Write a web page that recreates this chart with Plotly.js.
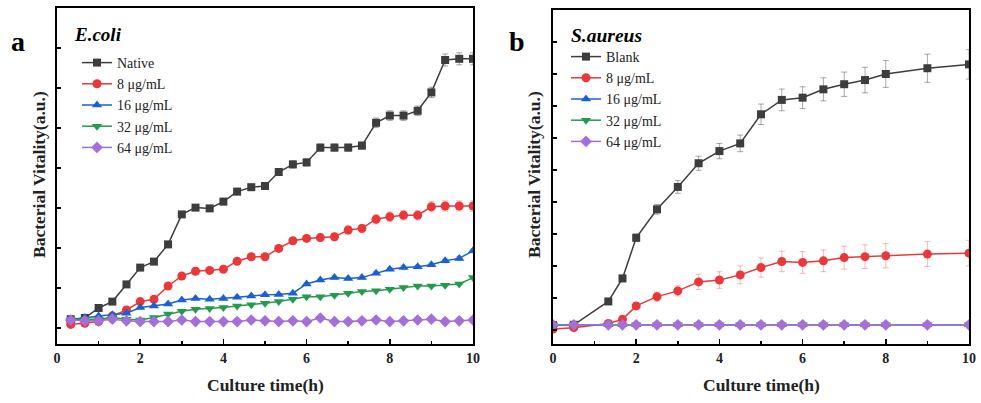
<!DOCTYPE html>
<html>
<head>
<meta charset="utf-8">
<script src="https://cdn.plot.ly/plotly-3.0.1.min.js"></script>
<style>html,body{margin:0;padding:0;background:#fff}#chart{width:981px;height:403px}</style>
</head>
<body>
<div id="chart"></div>
<script>
// ---------- Panel a : E.coli ----------
const timeA = [0.33,0.67,1.0,1.33,1.67,2.0,2.33,2.67,3.0,3.33,3.67,4.0,4.33,4.67,5.0,5.33,5.67,6.0,6.33,6.67,7.0,7.33,7.67,8.0,8.33,8.67,9.0,9.33,9.67,10.0];
const nativeA = [0.22,0.25,0.50,0.66,1.09,1.51,1.66,2.09,2.84,3.01,2.99,3.16,3.41,3.52,3.55,3.90,4.09,4.14,4.51,4.51,4.51,4.56,5.13,5.31,5.31,5.43,5.89,6.70,6.73,6.73];
const nativeAErr = [0.04,0.04,0.05,0.05,0.06,0.06,0.06,0.07,0.07,0.07,0.07,0.08,0.08,0.08,0.08,0.08,0.09,0.09,0.09,0.09,0.09,0.09,0.12,0.12,0.12,0.12,0.13,0.15,0.15,0.15];
const c8A = [0.09,0.12,0.16,0.30,0.45,0.66,0.72,1.05,1.30,1.42,1.44,1.47,1.67,1.78,1.78,1.99,2.18,2.24,2.26,2.28,2.45,2.49,2.72,2.78,2.82,2.82,3.03,3.05,3.05,3.05];
const c8AErr = [0.03,0.03,0.03,0.04,0.04,0.05,0.05,0.05,0.06,0.06,0.06,0.06,0.07,0.07,0.07,0.08,0.08,0.08,0.09,0.09,0.10,0.10,0.12,0.12,0.12,0.12,0.13,0.13,0.13,0.13];
const c16A = [0.20,0.26,0.30,0.33,0.37,0.51,0.55,0.60,0.70,0.74,0.72,0.74,0.77,0.80,0.83,0.84,0.87,1.10,1.20,1.26,1.24,1.26,1.37,1.47,1.51,1.53,1.58,1.68,1.74,1.93];
const c16AErr = [0.02,0.02,0.02,0.02,0.02,0.03,0.03,0.03,0.03,0.03,0.03,0.03,0.03,0.03,0.03,0.03,0.03,0.04,0.04,0.04,0.04,0.04,0.04,0.04,0.04,0.04,0.04,0.05,0.05,0.05];
const c32A = [0.20,0.22,0.22,0.26,0.22,0.20,0.26,0.35,0.42,0.47,0.49,0.51,0.55,0.58,0.62,0.66,0.72,0.78,0.78,0.82,0.87,0.91,0.93,0.97,1.01,1.05,1.05,1.07,1.10,1.26];
const c32AErr = [0.02,0.02,0.02,0.02,0.02,0.02,0.02,0.02,0.02,0.02,0.02,0.02,0.02,0.02,0.02,0.03,0.03,0.03,0.03,0.03,0.03,0.03,0.03,0.03,0.03,0.03,0.03,0.03,0.03,0.03];
const c64A = [0.20,0.18,0.18,0.22,0.18,0.16,0.16,0.16,0.20,0.16,0.16,0.16,0.16,0.20,0.18,0.16,0.18,0.16,0.25,0.16,0.16,0.18,0.20,0.16,0.18,0.20,0.22,0.16,0.18,0.20];
const c64AErr = [0.02,0.02,0.02,0.02,0.02,0.02,0.02,0.02,0.02,0.02,0.02,0.02,0.02,0.02,0.02,0.02,0.02,0.02,0.02,0.02,0.02,0.02,0.02,0.02,0.02,0.02,0.02,0.02,0.02,0.02];

// ---------- Panel b : S.aureus ----------
const timeB = [0,0.5,1.33,1.67,2.0,2.5,3.0,3.5,4.0,4.5,5.0,5.5,6.0,6.5,7.0,7.5,8.0,9.0,10.0];
const blankB = [0.15,0.16,0.89,1.61,2.88,3.77,4.47,5.21,5.59,5.83,6.74,7.19,7.26,7.52,7.68,7.81,8.00,8.18,8.30];
const blankBErr = [0.05,0.06,0.08,0.10,0.12,0.15,0.20,0.22,0.24,0.26,0.32,0.34,0.34,0.36,0.38,0.40,0.42,0.44,0.46];
const c8B = [0.03,0.07,0.20,0.33,0.75,1.04,1.22,1.50,1.56,1.72,1.95,2.14,2.11,2.16,2.26,2.29,2.32,2.37,2.40];
const c8BErr = [0.03,0.04,0.05,0.06,0.10,0.14,0.16,0.24,0.26,0.28,0.30,0.32,0.34,0.34,0.36,0.37,0.38,0.39,0.40];
const c16B = [0.16,0.16,0.16,0.16,0.16,0.16,0.16,0.16,0.16,0.16,0.16,0.16,0.16,0.16,0.16,0.16,0.16,0.16,0.16];
const c32B = [0.16,0.16,0.16,0.16,0.16,0.16,0.16,0.16,0.16,0.16,0.16,0.16,0.16,0.16,0.16,0.16,0.16,0.16,0.16];
const c64B = [0.16,0.16,0.16,0.16,0.16,0.16,0.16,0.16,0.16,0.16,0.16,0.16,0.16,0.16,0.16,0.16,0.16,0.16,0.16];

const namesA = ['Native','8 μg/mL','16 μg/mL','32 μg/mL','64 μg/mL'];
const namesB = ['Blank','8 μg/mL','16 μg/mL','32 μg/mL','64 μg/mL'];

const colors = ['#3d3d3d','#e8383a','#1c5fcf','#259a4e','#a46fd6'];
const errColors = ['rgba(61,61,61,0.45)','rgba(232,56,58,0.35)','rgba(28,95,207,0.35)','rgba(37,154,78,0.35)','rgba(164,111,214,0.35)'];
const symbols = ['square','circle','triangle-up','triangle-down','diamond'];
const sizes = [8,9,9,9,9];

function mk(x, y, err, i, names, xa, ya, leg){
  return {
    x: x, y: y, name: names[i], type: 'scatter', mode: 'lines+markers',
    xaxis: xa, yaxis: ya, legend: leg,
    line: {color: colors[i], width: 1.5},
    marker: {color: colors[i], symbol: symbols[i], size: sizes[i]},
    error_y: err ? {type: 'data', array: err, visible: true, color: errColors[i], thickness: 1, width: 3} : {visible: false}
  };
}

const data = [
  mk(timeA, nativeA, nativeAErr, 0, namesA, 'x', 'y', 'legend'),
  mk(timeA, c8A, c8AErr, 1, namesA, 'x', 'y', 'legend'),
  mk(timeA, c16A, c16AErr, 2, namesA, 'x', 'y', 'legend'),
  mk(timeA, c32A, c32AErr, 3, namesA, 'x', 'y', 'legend'),
  mk(timeA, c64A, c64AErr, 4, namesA, 'x', 'y', 'legend'),
  mk(timeB, blankB, blankBErr, 0, namesB, 'x2', 'y2', 'legend2'),
  mk(timeB, c8B, c8BErr, 1, namesB, 'x2', 'y2', 'legend2'),
  mk(timeB, c16B, null, 2, namesB, 'x2', 'y2', 'legend2'),
  mk(timeB, c32B, null, 3, namesB, 'x2', 'y2', 'legend2'),
  mk(timeB, c64B, null, 4, namesB, 'x2', 'y2', 'legend2')
];

const W = 981, H = 403;
const serif = 'Liberation Serif, Times New Roman, serif';
const tickFont = {family: serif, size: 14, color: '#222', weight: 'bold'};

function xax(domainPx){
  return {
    domain: [domainPx[0]/W, domainPx[1]/W], range: [0,10], dtick: 2, tick0: 0,
    ticks: 'inside', ticklen: 5, tickwidth: 1.5, tickcolor: '#000',
    minor: {dtick: 1, ticks: 'inside', ticklen: 3, tickcolor: '#000', tickwidth: 1.5},
    showline: true, linecolor: '#000', linewidth: 2, mirror: true,
    showgrid: false, zeroline: false, tickfont: tickFont, fixedrange: true
  };
}
function yax(domainPx, range, anchor){
  return {
    domain: [(H-domainPx[1])/H, (H-domainPx[0])/H], range: range, dtick: 1, tick0: 0,
    ticks: 'inside', ticklen: 4, tickwidth: 1.5, tickcolor: '#000',
    showticklabels: false, anchor: anchor,
    showline: true, linecolor: '#000', linewidth: 2, mirror: true,
    showgrid: false, zeroline: false, fixedrange: true
  };
}

const legBase = {
  bgcolor: 'rgba(0,0,0,0)', borderwidth: 0, font: {family: serif, size: 14, color: '#222'},
  xanchor: 'left', yanchor: 'top', tracegroupgap: 0, itemwidth: 30
};

const layout = {
  width: W, height: H, margin: {l:0, r:0, t:0, b:0},
  paper_bgcolor: '#fff', plot_bgcolor: '#fff', showlegend: true,
  xaxis: Object.assign(xax([57,473]), {anchor: 'y'}),
  yaxis: yax([8,344], [-0.4, 8], 'x'),
  xaxis2: Object.assign(xax([553,969]), {anchor: 'y2'}),
  yaxis2: yax([10,344], [-0.44, 10], 'x2'),
  legend: Object.assign({}, legBase, {x: 77/W, y: 1 - 47/H}),
  legend2: Object.assign({}, legBase, {x: 566/W, y: 1 - 41/H}),
  annotations: [
    {text: '<b>a</b>', x: 18/W, y: 1 - 42/H, xref: 'paper', yref: 'paper', xanchor: 'center', yanchor: 'middle', showarrow: false, font: {family: serif, size: 28, color: '#000'}},
    {text: '<b>b</b>', x: 517/W, y: 1 - 42/H, xref: 'paper', yref: 'paper', xanchor: 'center', yanchor: 'middle', showarrow: false, font: {family: serif, size: 28, color: '#000'}},
    {text: '<b><i>E.coli</i></b>', x: 72/W, y: 1 - 34/H, xref: 'paper', yref: 'paper', xanchor: 'left', yanchor: 'middle', showarrow: false, font: {family: serif, size: 19, color: '#000'}},
    {text: '<b><i>S.aureus</i></b>', x: 569/W, y: 1 - 35/H, xref: 'paper', yref: 'paper', xanchor: 'left', yanchor: 'middle', showarrow: false, font: {family: serif, size: 19.5, color: '#000'}},
    {text: '<b>Bacterial Vitality(a.u.)</b>', x: 39/W, y: 1 - 175/H, xref: 'paper', yref: 'paper', xanchor: 'center', yanchor: 'middle', textangle: -90, showarrow: false, font: {family: serif, size: 17.5, color: '#222'}},
    {text: '<b>Bacterial Vitality(a.u.)</b>', x: 534/W, y: 1 - 175/H, xref: 'paper', yref: 'paper', xanchor: 'center', yanchor: 'middle', textangle: -90, showarrow: false, font: {family: serif, size: 17.5, color: '#222'}},
    {text: '<b>Culture time(h)</b>', x: 265/W, y: 1 - 385/H, xref: 'paper', yref: 'paper', xanchor: 'center', yanchor: 'middle', showarrow: false, font: {family: serif, size: 17.5, color: '#222'}},
    {text: '<b>Culture time(h)</b>', x: 761/W, y: 1 - 385/H, xref: 'paper', yref: 'paper', xanchor: 'center', yanchor: 'middle', showarrow: false, font: {family: serif, size: 17.5, color: '#222'}}
  ]
};

Plotly.newPlot('chart', data, layout, {displayModeBar: false, staticPlot: true});
</script>
</body>
</html>
